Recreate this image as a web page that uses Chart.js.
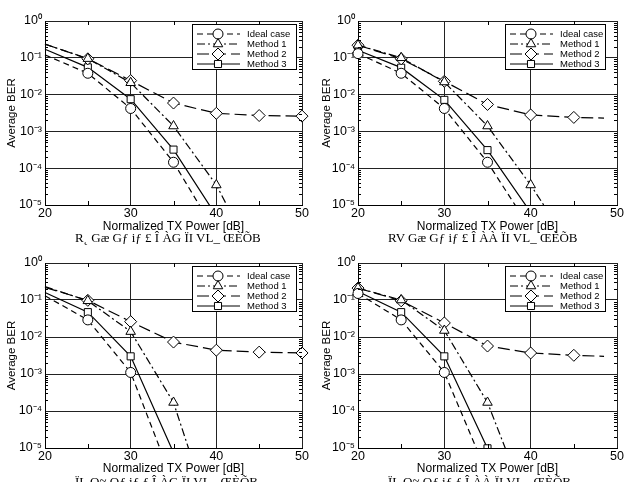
<!DOCTYPE html>
<html>
<head>
<meta charset="utf-8">
<script src="https://cdn.jsdelivr.net/npm/chart.js@4/dist/chart.umd.min.js"></script>
<style>
  body { margin: 0; background: #fff; width: 630px; height: 482px; overflow: hidden; position: relative; }
  .panel { position: absolute; width: 315px; height: 241px; }
  .cap { position: absolute; font-family: "Liberation Serif", serif; font-size: 13px; line-height: 14px; white-space: pre; color: #000; }
</style>
</head>
<body>
<div class="panel" style="left:0;top:0"><canvas id="figA" width="315" height="241"></canvas></div>
<div class="panel" style="left:315px;top:0"><canvas id="figB" width="315" height="241"></canvas></div>
<div class="panel" style="left:0;top:241px"><canvas id="figC" width="315" height="241"></canvas></div>
<div class="panel" style="left:315px;top:241px"><canvas id="figD" width="315" height="241"></canvas></div>
<div class="cap" style="left:75px;top:231px">R˛ Gæ Gƒ iƒ £ Î ÀG ÏI VL_ ŒÈÕB</div>
<div class="cap" style="left:388px;top:231px">RV Gæ Gƒ iƒ £ Î ÀÀ ÏI VL_ ŒÈÕB</div>
<div class="cap" style="left:75px;top:475px">ÏL Q≈ Qƒ iƒ ƒ Î ÀG ÏI VL_ ŒÈÕB</div>
<div class="cap" style="left:388px;top:475px">ÏL Q≈ Qƒ iƒ ƒ Î ÀÀ ÏI VL_ ŒÈÕB</div>
<script>
var powerDb = [20, 25, 30, 35, 40, 45, 50];
var powerDbEnd = [20, 25, 30, 35, 40, 45, 48.5];
var powerTicks = [20, 30, 40, 50];
var powerMinor = [25, 35, 45];
var berTicks = [1, 0.1, 0.01, 0.001, 0.0001, 0.00001];
var berTickLabels = ['10⁰', '10⁻¹', '10⁻²', '10⁻³', '10⁻⁴', '10⁻⁵'];
var seriesNames = ['Ideal case', 'Method 1', 'Method 2', 'Method 3'];

// top left
var idealA   = [0.12, 0.038, 0.0042, 1.45e-4, 1.7e-6, null, null];
var method1A = [0.235, 0.095, 0.021, 1.4e-3, 3.5e-5, 2e-7, null];
var method2A = [0.235, 0.094, 0.024, 0.0059, 0.0031, 0.0027, 0.0026];
var method3A = [0.17, 0.055, 0.0075, 3.2e-4, 5.1e-6, null, null];
// top right
var idealB   = [0.13, 0.038, 0.0042, 1.45e-4, 2.2e-6, null, null];
var method1B = [0.22, 0.10, 0.022, 1.4e-3, 3.5e-5, 5.5e-7, null];
var method2B = [0.22, 0.094, 0.023, 0.0054, 0.0028, 0.0024, 0.0023];
var method3B = [0.16, 0.054, 0.0072, 3.1e-4, 6.3e-6, null, null];
// bottom left
var idealC   = [0.13, 0.029, 0.0011, 1.1e-6, null, null, null];
var method1C = [0.23, 0.095, 0.014, 1.7e-4, 5e-8, null, null];
var method2C = [0.22, 0.098, 0.026, 0.0073, 0.0044, 0.0039, 0.0037];
var method3C = [0.16, 0.047, 0.003, 7.5e-6, null, null, null];
// bottom right
var idealD   = [0.15, 0.029, 0.0011, 1.9e-6, null, null, null];
var method1D = [0.21, 0.10, 0.015, 1.7e-4, 1.7e-7, null, null];
var method2D = [0.21, 0.095, 0.024, 0.0057, 0.0037, 0.0032, 0.0030];
var method3D = [0.17, 0.047, 0.003, 9.8e-6, null, null, null];

var FONT = '"Liberation Sans", Arial, sans-serif';

var lineStyles = [
  { dash: [6, 4], point: 'circle', r: 5 },
  { dash: [8, 3, 2, 3], point: 'triangle', r: 5.5 },
  { dash: [12, 5], point: 'rectRot', r: 6 },
  { dash: [], point: 'rect', r: 5 }
];

var minorTicks = {
  id: 'minorTicks',
  afterDatasetsDraw: function(chart) {
    var ctx = chart.ctx, a = chart.chartArea, xs = chart.scales.x, ys = chart.scales.y;
    ctx.save();
    ctx.strokeStyle = '#000';
    ctx.lineWidth = 1;
    ctx.beginPath();
    for (var d = -5; d < 0; d++) {
      for (var k = 2; k < 10; k++) {
        var py = Math.round(ys.getPixelForValue(k * Math.pow(10, d))) + 0.5;
        ctx.moveTo(a.left, py); ctx.lineTo(a.left + 3, py);
        ctx.moveTo(a.right, py); ctx.lineTo(a.right - 3, py);
      }
    }
    powerMinor.forEach(function(v) {
      var px = Math.round(xs.getPixelForValue(v)) + 0.5;
      ctx.moveTo(px, a.bottom); ctx.lineTo(px, a.bottom - 4);
      ctx.moveTo(px, a.top); ctx.lineTo(px, a.top + 4);
    });
    ctx.stroke();
    ctx.restore();
  }
};

var berLegend = {
  id: 'berLegend',
  afterDraw: function(chart, args, opts) {
    var ctx = chart.ctx, a = chart.chartArea;
    var w = opts.width, h = 45;
    var x0 = Math.round(a.right - opts.right - w), y0 = Math.round(a.top + 3);
    ctx.save();
    ctx.fillStyle = '#fff';
    ctx.fillRect(x0, y0, w, h);
    ctx.strokeStyle = '#000';
    ctx.lineWidth = 1;
    ctx.strokeRect(x0 + 0.5, y0 + 0.5, w, h);
    ctx.font = '9.5px ' + FONT;
    ctx.textBaseline = 'middle';
    chart.data.datasets.forEach(function(ds, i) {
      var y = y0 + 10 + i * 10;
      ctx.setLineDash(ds.borderDash);
      ctx.beginPath();
      ctx.moveTo(x0 + 5, y); ctx.lineTo(x0 + 48, y);
      ctx.stroke();
      ctx.setLineDash([]);
      ctx.fillStyle = '#fff';
      Chart.helpers.drawPoint(ctx, { pointStyle: ds.pointStyle, radius: lineStyles[i].r, borderWidth: 1, rotation: 0 }, x0 + 26, y);
      ctx.fillStyle = '#000';
      ctx.fillText(ds.label, x0 + 55, y);
    });
    ctx.restore();
  }
};

function makeSet(i, xs, ys, from, to) {
  var st = lineStyles[i];
  var pts = [];
  xs.forEach(function(x, j) { if (ys[j] !== null) pts.push({ x: x, y: ys[j] }); });
  return {
    label: seriesNames[i],
    data: pts,
    borderColor: '#000',
    borderWidth: 1.2,
    borderDash: st.dash,
    backgroundColor: '#fff',
    pointStyle: st.point,
    pointBackgroundColor: '#fff',
    pointBorderColor: '#000',
    pointBorderWidth: 1,
    pointRadius: function(c) { var x = c.raw && c.raw.x; return (x >= from && x <= to) ? st.r : 0; },
    pointHoverRadius: 0,
    tension: 0,
    clip: { left: 8, right: 8, top: 0, bottom: 0 }
  };
}

function makeChart(id, sets, box) {
  new Chart(document.getElementById(id), {
    type: 'line',
    data: { datasets: sets },
    plugins: [minorTicks, berLegend],
    options: {
      responsive: false,
      animation: false,
      devicePixelRatio: 1,
      layout: { padding: { top: box.top, right: 13, left: 0, bottom: 0 } },
      plugins: {
        legend: { display: false },
        tooltip: { enabled: false },
        berLegend: { width: box.legendW, right: box.legendR }
      },
      scales: {
        x: {
          type: 'linear', min: 20, max: 50,
          afterBuildTicks: function(s) { s.ticks = powerTicks.map(function(v) { return { value: v }; }); },
          afterFit: function(s) { s.height = box.xh; },
          grid: { color: '#222', lineWidth: 1, drawTicks: false },
          border: { color: '#000', width: 1 },
          ticks: { color: '#000', font: { family: FONT, size: 12.5 }, padding: 1, maxRotation: 0 },
          title: { display: true, text: 'Normalized TX Power [dB]', color: '#000', font: { family: FONT, size: 12 }, padding: { top: 0, bottom: box.titlePad } }
        },
        y: {
          type: 'logarithmic', min: 1e-5, max: 1,
          afterBuildTicks: function(s) { s.ticks = berTicks.map(function(v) { return { value: v }; }); },
          afterFit: function(s) { s.width = box.left; },
          grid: { color: '#222', lineWidth: 1, drawTicks: false },
          border: { color: '#000', width: 1 },
          ticks: {
            color: '#000', font: { family: FONT, size: 12.5 }, padding: 3,
            callback: function(v) { return berTickLabels[Math.round(-Math.log10(v))]; }
          },
          title: { display: true, text: 'Average BER', color: '#000', font: { family: FONT, size: 11.5 }, padding: { top: 5, bottom: 0 } }
        }
      }
    }
  });
}

makeChart('figA', [
  makeSet(0, powerDb, idealA, 25, 50), makeSet(1, powerDb, method1A, 25, 50),
  makeSet(2, powerDb, method2A, 25, 50), makeSet(3, powerDb, method3A, 25, 50)
], { top: 21, left: 45, xh: 36, titlePad: 7, legendW: 104, legendR: 6 });

makeChart('figB', [
  makeSet(0, powerDb, idealB, 20, 45), makeSet(1, powerDb, method1B, 20, 45),
  makeSet(2, powerDbEnd, method2B, 20, 45), makeSet(3, powerDb, method3B, 20, 45)
], { top: 21, left: 43, xh: 36, titlePad: 7, legendW: 100, legendR: 12 });

makeChart('figC', [
  makeSet(0, powerDb, idealC, 25, 50), makeSet(1, powerDb, method1C, 25, 50),
  makeSet(2, powerDb, method2C, 25, 50), makeSet(3, powerDb, method3C, 25, 50)
], { top: 22, left: 45, xh: 34, titlePad: 6, legendW: 104, legendR: 6 });

makeChart('figD', [
  makeSet(0, powerDb, idealD, 20, 45), makeSet(1, powerDb, method1D, 20, 45),
  makeSet(2, powerDbEnd, method2D, 20, 45), makeSet(3, powerDb, method3D, 20, 45)
], { top: 22, left: 43, xh: 34, titlePad: 6, legendW: 100, legendR: 12 });
</script>
</body>
</html>
